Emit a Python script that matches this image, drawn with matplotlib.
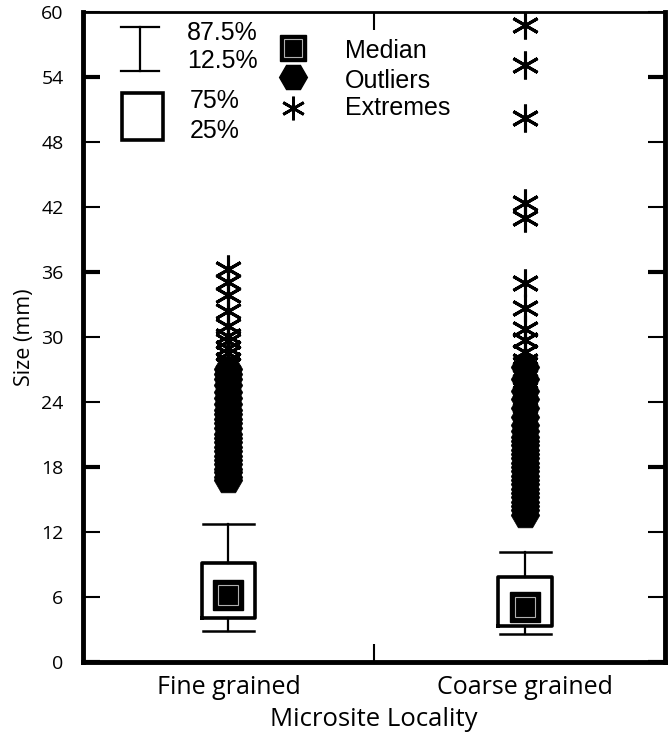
import matplotlib
matplotlib.use('Agg')
import matplotlib.pyplot as plt
from matplotlib.patches import Rectangle

# box statistics (mm)
groups = ['Fine grained', 'Coarse grained']
positions = [0.5, 1.52]
p125 = [2.86, 2.55]
p25 = [4.06, 3.32]
median = [6.2, 5.1]
p75 = [9.14, 7.85]
p875 = [12.7, 10.16]

fine_outliers = [16.8, 17.1, 17.5, 17.8, 18.3, 18.6, 19.0, 19.5, 19.8, 20.3, 20.7, 21.0,
                 21.6, 22.1, 22.4, 22.9, 23.3, 23.8, 24.4, 24.9, 25.6, 26.1, 26.6, 27.0]
fine_extremes = [27.4, 27.9, 28.5, 29.0, 29.6, 30.1, 31.0, 32.4, 33.9, 35.1, 36.3]
coarse_outliers = [13.6, 14.0, 14.4, 14.8, 15.2, 15.6, 16.0, 16.4, 16.8, 17.2, 17.6, 18.0,
                   18.4, 18.8, 19.2, 19.6, 20.0, 20.4, 20.8, 21.3, 21.9, 22.6, 23.4, 24.3,
                   25.0, 26.1, 27.2]
coarse_extremes = [22.5, 23.3, 24.0, 24.8, 25.5, 26.3, 27.0, 27.8, 28.6, 29.7, 30.7, 32.7,
                   35.0, 41.0, 42.4, 50.2, 55.1, 58.8]

star = (6, 2, 0)
tickfont = 'Open Sans'
legfont = 'Liberation Sans'

fig = plt.figure(figsize=(6.69, 7.34), dpi=100)
ax = fig.add_axes([0.124, 0.098, 0.870, 0.886])

stats = []
for i in range(2):
    stats.append({'whislo': p125[i], 'q1': p25[i], 'med': median[i], 'q3': p75[i],
                  'whishi': p875[i], 'fliers': []})
ax.bxp(stats, positions=positions, widths=0.185, capwidths=0.175, showfliers=False,
       boxprops=dict(color='k', linewidth=2.6),
       whiskerprops=dict(color='k', linewidth=1.6),
       capprops=dict(color='k', linewidth=1.8),
       medianprops=dict(linewidth=0), manage_ticks=False)

# outliers and extremes
ax.plot([positions[0]] * len(fine_outliers), fine_outliers, ls='none', marker='H',
        ms=20.5, mfc='k', mec='k', mew=0.5)
ax.plot([positions[1]] * len(coarse_outliers), coarse_outliers, ls='none', marker='H',
        ms=20.5, mfc='k', mec='k', mew=0.5)
ax.plot([positions[0]] * len(fine_extremes), fine_extremes, ls='none', marker=star,
        ms=20, mec='k', mew=2.2)
ax.plot([positions[1]] * len(coarse_extremes), coarse_extremes, ls='none', marker=star,
        ms=20, mec='k', mew=2.2)

# medians: black square with grey inner outline
ax.plot(positions, median, ls='none', marker='s', ms=21, mfc='k', mec='k', mew=1)
ax.plot(positions, median, ls='none', marker='s', ms=15, mfc='none', mec='#b0b0b0', mew=0.8)

ax.set_xlim(0, 2)
ax.set_ylim(0, 60)

# axes frame
for s in ['left', 'bottom', 'right']:
    ax.spines[s].set_linewidth(3.5)
ax.spines['top'].set_linewidth(2)

ax.set_yticks([0, 18, 36, 54], ['0', '18', '36', '54'])
ax.set_yticks([6, 12, 24, 30, 42, 48, 60], ['6', '12', '24', '30', '42', '48', '60'], minor=True)
ax.tick_params(axis='y', which='major', direction='in', length=12, width=3, right=True,
               labelsize=14, pad=14)
ax.tick_params(axis='y', which='minor', direction='in', length=12, width=1.5, right=True,
               labelsize=14, pad=14)
ax.set_xticks([1.0], [''])
ax.set_xticks(positions, groups, minor=True)
ax.tick_params(axis='x', which='major', direction='in', length=13, width=1.5, top=True)
ax.tick_params(axis='x', which='minor', length=0, labelsize=18, pad=9)
for lab in ax.get_yticklabels(which='both') + ax.get_xticklabels(which='both'):
    lab.set_fontfamily(tickfont)

ax.set_xlabel('Microsite Locality', fontsize=18.5, family=tickfont, labelpad=5)
ax.set_ylabel('Size (mm)', fontsize=15.5, family=tickfont, labelpad=4)

# key in the upper left corner
T = ax.transAxes
ax.plot([0.098, 0.098], [0.909, 0.977], color='k', lw=1.6, transform=T)
ax.plot([0.065, 0.131], [0.977, 0.977], color='k', lw=1.6, transform=T)
ax.plot([0.065, 0.131], [0.909, 0.909], color='k', lw=1.6, transform=T)
ax.add_patch(Rectangle((0.067, 0.803), 0.070, 0.072, fill=False, ec='k', lw=2.6, transform=T))
ax.text(0.179, 0.968, '87.5%', fontsize=18, family=legfont, va='center', transform=T)
ax.text(0.179, 0.925, '12.5%', fontsize=18, family=legfont, va='center', transform=T)
ax.text(0.184, 0.863, '75%', fontsize=18, family=legfont, va='center', transform=T)
ax.text(0.184, 0.817, '25%', fontsize=18, family=legfont, va='center', transform=T)
ax.plot([0.361], [0.945], marker='s', ms=18.5, mfc='k', mec='k', transform=T)
ax.plot([0.361], [0.945], marker='s', ms=13, mfc='none', mec='#b0b0b0', mew=0.8, transform=T)
ax.plot([0.361], [0.900], marker='H', ms=20, mfc='k', mec='k', transform=T)
ax.plot([0.361], [0.852], marker=star, ms=17, mec='k', mew=2.0, transform=T)
ax.text(0.45, 0.940, 'Median', fontsize=18, family=legfont, va='center', transform=T)
ax.text(0.45, 0.894, 'Outliers', fontsize=18, family=legfont, va='center', transform=T)
ax.text(0.45, 0.852, 'Extremes', fontsize=18, family=legfont, va='center', transform=T)

fig.savefig('out.png', dpi=100)
